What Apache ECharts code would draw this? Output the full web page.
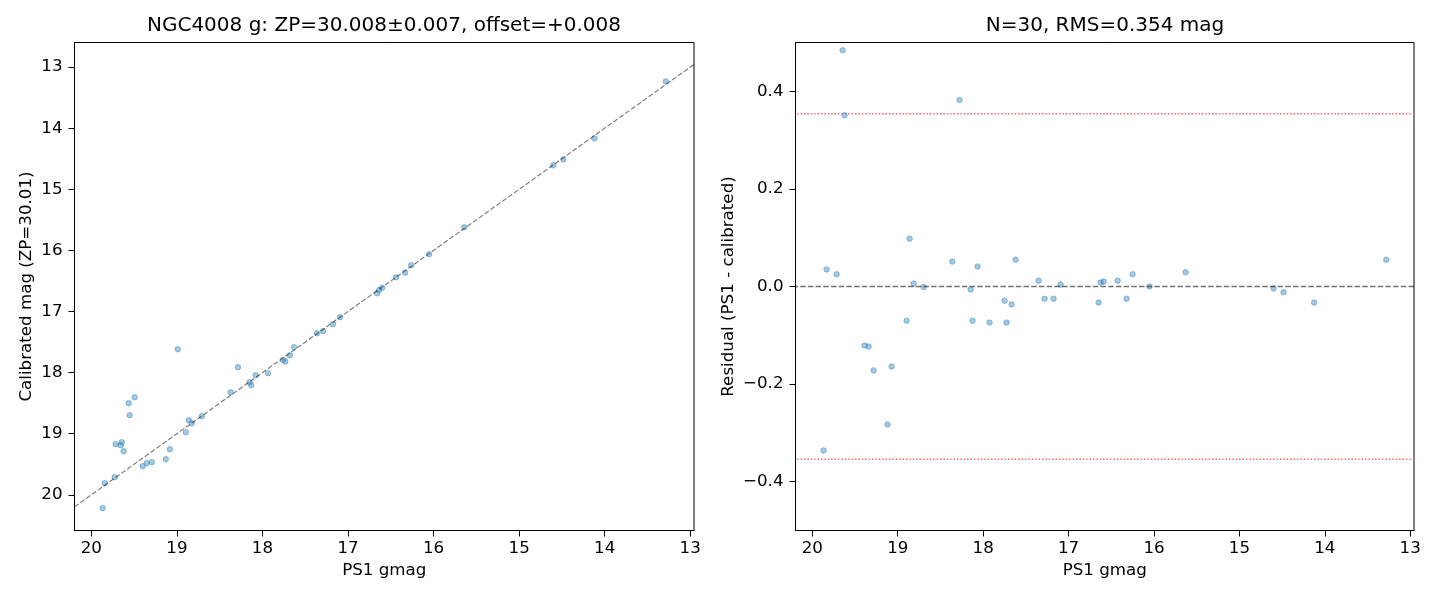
<!DOCTYPE html>
<html>
<head>
<meta charset="utf-8">
<script src="https://cdn.jsdelivr.net/npm/echarts@6/dist/echarts.min.js"></script>
<style>
html,body{margin:0;padding:0;background:#fff;}
#chart{width:1440px;height:600px;}
</style>
</head>
<body>
<div id="chart"></div>
<script>
// ---- Data ----
const ps1Left = [19.868,19.844,19.727,19.716,19.645,19.657,19.622,19.493,19.563,19.552,
  19.400,19.353,19.294,19.130,19.083,18.990,18.896,18.861,18.826,18.709,
  18.373,18.287,18.151,18.131,18.080,17.936,17.761,17.733,17.679,17.632,
  17.363,17.292,17.175,17.094,16.660,16.637,16.602,16.438,16.333,16.262,
  16.052,15.642,14.600,14.483,14.120,13.285];
const calibrated = [20.218,19.809,19.711,19.171,19.139,19.188,19.286,18.403,18.501,18.697,
  19.531,19.482,19.465,19.416,19.253,17.617,18.975,18.779,18.828,18.713,
  18.321,17.912,18.157,18.206,18.043,18.010,17.792,17.820,17.716,17.585,
  17.356,17.323,17.208,17.094,16.702,16.647,16.610,16.440,16.364,16.243,
  16.063,15.622,14.608,14.510,14.166,13.234];

const ps1Right = [19.868,19.833,19.716,19.645,19.622,19.388,19.341,19.282,19.119,19.072,
  18.896,18.861,18.814,18.697,18.361,18.276,18.147,18.124,18.065,17.925,
  17.749,17.726,17.667,17.620,17.351,17.281,17.176,17.094,16.649,16.625,
  16.590,16.426,16.321,16.251,16.052,15.630,14.600,14.483,14.125,13.281];
const residual = [-0.336,0.035,0.025,0.484,0.351,-0.121,-0.123,-0.172,-0.283,-0.164,
  -0.070,0.098,0.006,-0.001,0.051,0.382,-0.006,-0.070,0.041,-0.074,
  -0.029,-0.074,-0.037,0.055,0.012,-0.025,-0.025,0.004,-0.033,0.008,
  0.010,0.012,-0.025,0.025,0.000,0.029,-0.004,-0.012,-0.033,0.055];

const rms = 0.354;
const xRange = [12.956, 20.197];        // PS1 gmag axis limits
const yRangeLeft = [12.597, 20.584];    // calibrated mag axis limits
const identityEnds = [20.197, 12.956];  // 1:1 reference line ends
const magTicks = [13,14,15,16,17,18,19,20];
const residTicks = [-0.4,-0.2,0,0.2,0.4];

const leftTitle = 'NGC4008 g: ZP=30.008\u00b10.007, offset=+0.008';
const rightTitle = 'N=30, RMS=0.354 mag';

// ---- Chart ----
const FONT = 'DejaVu Sans';
const FS = 16.7;
const chart = echarts.init(document.getElementById('chart'), null, {renderer:'canvas'});

const ptColor = 'rgba(31,119,180,0.5)';
const fmtMinus = v => (v < 0 ? '\u2212' : '') + Math.abs(v).toFixed(1);

function magAxis(extra){
  return Object.assign({
    type:'value',
    min: xRange[0], max: xRange[1],
    inverse: true,
    splitLine:{show:false},
    axisLine:{show:true, onZero:false, lineStyle:{color:'#000', width:1}},
    axisTick:{show:true, customValues: magTicks, length:6, lineStyle:{color:'#000', width:1}},
    axisLabel:{show:true, customValues: magTicks, color:'#000', fontFamily:FONT, fontSize:FS, margin:10,
      formatter: v => String(Math.round(v))},
    nameLocation:'middle',
    nameTextStyle:{color:'#000', fontFamily:FONT, fontSize:FS}
  }, extra);
}

const grid0 = {left:74.5, top:42.5, width:619.5, height:488, show:true, borderColor:'#000', borderWidth:1, backgroundColor:'transparent'};
const grid1 = {left:795.5, top:42.5, width:618.5, height:488, show:true, borderColor:'#000', borderWidth:1, backgroundColor:'transparent'};

const rmsLine = (v) => ({
  type:'line', xAxisIndex:1, yAxisIndex:1,
  data: xRange.map(x => [x, v]),
  showSymbol:false, symbol:'none', silent:true, z:1,
  lineStyle:{color:'#ff6666', width:1.3, type:[1.4,2]}
});

const option = {
  animation:false,
  backgroundColor:'#fff',
  textStyle:{fontFamily:FONT},
  grid:[grid0, grid1],
  xAxis:[
    magAxis({gridIndex:0, name:'PS1 gmag', nameGap:31}),
    magAxis({gridIndex:1, name:'PS1 gmag', nameGap:31})
  ],
  yAxis:[
    {
      gridIndex:0, type:'value',
      min: yRangeLeft[0], max: yRangeLeft[1], inverse:true,
      splitLine:{show:false},
      axisLine:{show:true, onZero:false, lineStyle:{color:'#000', width:1}},
      axisTick:{show:true, customValues: magTicks, length:6, lineStyle:{color:'#000'}},
      axisLabel:{show:true, customValues: magTicks, color:'#000', fontFamily:FONT, fontSize:FS, margin:12,
        formatter: v => String(Math.round(v))},
      name:'Calibrated mag (ZP=30.01)', nameLocation:'middle', nameGap:39.5,
      nameTextStyle:{color:'#000', fontFamily:FONT, fontSize:FS}
    },
    {
      gridIndex:1, type:'value',
      min:-0.5, max:0.5,
      splitLine:{show:false},
      axisLine:{show:true, onZero:false, lineStyle:{color:'#000', width:1}},
      axisTick:{show:true, customValues: residTicks, length:6, lineStyle:{color:'#000'}},
      axisLabel:{show:true, customValues: residTicks, color:'#000', fontFamily:FONT, fontSize:FS, margin:12,
        formatter: fmtMinus},
      name:'Residual (PS1 - calibrated)', nameLocation:'middle', nameGap:58,
      nameTextStyle:{color:'#000', fontFamily:FONT, fontSize:FS}
    }
  ],
  graphic:[
    {type:'text', x:384, y:26, style:{text:leftTitle, font:'20px "DejaVu Sans"', fill:'#000', textAlign:'center', textVerticalAlign:'middle'}},
    {type:'text', x:1105, y:26, style:{text:rightTitle, font:'20px "DejaVu Sans"', fill:'#000', textAlign:'center', textVerticalAlign:'middle'}}
  ],
  series:[
    {
      type:'scatter', xAxisIndex:0, yAxisIndex:0,
      data: ps1Left.map((x,i)=>[x, calibrated[i]]),
      symbol:'circle', symbolSize:5.5,
      itemStyle:{color:ptColor, borderColor:ptColor, borderWidth:1},
      z:2
    },
    {
      type:'line', xAxisIndex:0, yAxisIndex:0,
      data: identityEnds.map(v=>[v, v]),
      showSymbol:false, symbol:'none',
      lineStyle:{color:'rgba(0,0,0,0.5)', width:1.2, type:[5,2.2]},
      silent:true, z:3
    },
    {
      type:'line', xAxisIndex:1, yAxisIndex:1,
      data: xRange.map(x => [x, 0]),
      showSymbol:false, symbol:'none', silent:true, z:3,
      lineStyle:{color:'rgba(0,0,0,0.55)', width:1.3, type:[5.5,2.2]}
    },
    rmsLine(rms),
    rmsLine(-rms),
    {
      type:'scatter', xAxisIndex:1, yAxisIndex:1,
      data: ps1Right.map((x,i)=>[x, residual[i]]),
      symbol:'circle', symbolSize:5.5,
      itemStyle:{color:ptColor, borderColor:ptColor, borderWidth:1},
      z:2
    }
  ]
};
chart.setOption(option);
</script>
</body>
</html>
